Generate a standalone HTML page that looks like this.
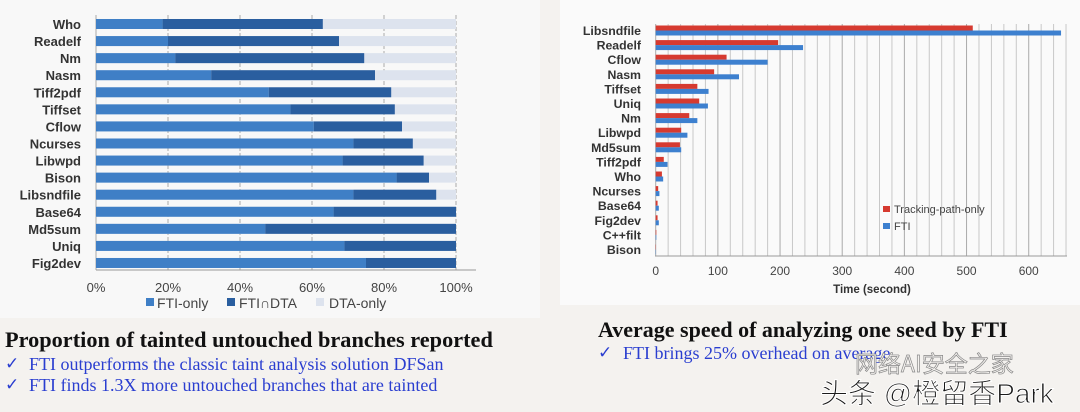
<!DOCTYPE html>
<html><head><meta charset="utf-8"><style>
html,body{margin:0;padding:0;background:#f4f2ef;width:1080px;height:412px;overflow:hidden}
svg text{font-family:"Liberation Sans",sans-serif}
</style></head><body>
<svg id="s" width="1080" height="412" xmlns="http://www.w3.org/2000/svg">
<rect x="0" y="0" width="540" height="318" fill="#f8f8f8"/>
<rect x="560" y="0" width="520" height="305" fill="#fafafa"/>
<g id="left"></g>
<g id="right"></g>
<g>
<rect x="146" y="298" width="8" height="8" fill="#3f7fc6"/>
<text x="157" y="308" font-size="14" fill="#444">FTI-only</text>
<rect x="227" y="298" width="8" height="8" fill="#2a5e9f"/>
<text x="239" y="308" font-size="14" fill="#444">FTI∩DTA</text>
<rect x="316" y="298" width="8" height="8" fill="#dde3ee"/>
<text x="329" y="308" font-size="14" fill="#444">DTA-only</text>
</g>
<g>
<rect x="883" y="206" width="7" height="6" fill="#d63a30"/>
<text x="894" y="213" font-size="11" fill="#444">Tracking-path-only</text>
<rect x="883" y="223" width="7" height="6" fill="#3d80cf"/>
<text x="894" y="230" font-size="11" fill="#444">FTI</text>
</g>
<text x="5" y="347" font-weight="bold" font-size="22.3" fill="#111" style="font-family:'Liberation Serif',serif">Proportion of tainted untouched branches reported</text>
<text x="5" y="369" font-size="17" fill="#2a3ed0" style="font-family:'DejaVu Sans',sans-serif">✓</text>
<text x="29" y="370" font-size="18" fill="#2a3ed0" style="font-family:'Liberation Serif',serif">FTI outperforms the classic taint analysis solution DFSan</text>
<text x="5" y="390" font-size="17" fill="#2a3ed0" style="font-family:'DejaVu Sans',sans-serif">✓</text>
<text x="29" y="391" font-size="18" fill="#2a3ed0" style="font-family:'Liberation Serif',serif">FTI finds 1.3X more untouched branches that are tainted</text>
<text x="598" y="337" font-weight="bold" font-size="22" fill="#111" style="font-family:'Liberation Serif',serif">Average speed of analyzing one seed by FTI</text>
<text x="598" y="358" font-size="17" fill="#2a3ed0" style="font-family:'DejaVu Sans',sans-serif">✓</text>
<text x="623" y="359" font-size="18" fill="#2a3ed0" style="font-family:'Liberation Serif',serif">FTI brings 25% overhead on average</text>
<text x="855" y="372" font-size="23" fill="#f4f2ef" stroke="#888" stroke-width="0.7" style="font-family:'Noto Sans CJK SC',sans-serif">网络AI安全之家</text>
<text x="820" y="403" font-size="28" fill="#1a1a1a" stroke="#fff" stroke-width="1" style="font-family:'Liberation Sans','Noto Sans CJK SC',sans-serif">头条 @橙留香Park</text>
</svg>
<script>
const leftCats=["Who","Readelf","Nm","Nasm","Tiff2pdf","Tiffset","Cflow","Ncurses","Libwpd","Bison","Libsndfile","Base64","Md5sum","Uniq","Fig2dev"];
const leftFtiOnly=[18.5,20,22,32,48,54,60.5,71.5,68.5,83.5,71.5,66,47,69,75];
const leftBoth=[44.5,47.5,52.5,45.5,34,29,24.5,16.5,22.5,9,23,34,53,31,25];
const leftTicks=["0%","20%","40%","60%","80%","100%"];
const rightCats=["Libsndfile","Readelf","Cflow","Nasm","Tiffset","Uniq","Nm","Libwpd","Md5sum","Tiff2pdf","Who","Ncurses","Base64","Fig2dev","C++filt","Bison"];
const rightTracking=[510,197,114,94,67,70,54,41,39,13,10,4,3,3,1,0.5];
const rightFti=[652,237,180,134,85,84,67,51,41,19,12,6,5,5,1,0.5];
const rightTicks=[0,100,200,300,400,500,600];
const NS="http://www.w3.org/2000/svg";
function mk(p,t,a){const e=document.createElementNS(NS,t);for(const k in a)e.setAttribute(k,a[k]);p.appendChild(e);return e;}
const L=document.getElementById('left');
const lx=v=>96+v*3.6, ly=i=>24+i*17.07;
for(let i=0;i<=5;i++){const g=mk(L,'line',{x1:lx(i*20),x2:lx(i*20),y1:15,y2:270,stroke:'#aaa','stroke-width':1,'stroke-dasharray':i==0?'':'4,2'});

const t=mk(L,'text',{x:lx(i*20),y:292,'text-anchor':'middle','font-size':13,fill:'#444'});t.textContent=leftTicks[i];
}
const ax=mk(L,'line',{x1:96,x2:476,y1:270,y2:270,stroke:'#999'});

leftCats.forEach((c,i)=>{const y=ly(i)-5;
const r3=mk(L,'rect',{x:lx(0),y:y,width:lx(100)-lx(0),height:10,fill:'#dde3ee'});

const r1=mk(L,'rect',{x:lx(0),y:y,width:lx(leftFtiOnly[i])-lx(0),height:10,fill:'#3f7fc6'});

const r2=mk(L,'rect',{x:lx(leftFtiOnly[i]),y:y,width:lx(leftFtiOnly[i]+leftBoth[i])-lx(leftFtiOnly[i]),height:10,fill:'#2a5e9f'});

const t=mk(L,'text',{x:81,y:ly(i)+5,'text-anchor':'end','font-size':13,'font-weight':'bold',fill:'#333'});t.textContent=c;
});
const R=document.getElementById('right');
const rx=v=>655.7+v*0.6217, ry=i=>30.5+i*14.6;
for(let v=0;v<=660;v+=20){const g=mk(R,'line',{x1:rx(v),x2:rx(v),y1:24,y2:256,stroke:v%100==0?'#aaa':'#c8c8c8','stroke-width':1});
}
rightTicks.forEach(v=>{const t=mk(R,'text',{x:rx(v),y:275,'text-anchor':'middle','font-size':12,fill:'#444'});t.textContent=v;
});
const ax2=mk(R,'line',{x1:655,x2:1067,y1:256,y2:256,stroke:'#999'});

const xt=mk(R,'text',{x:872,y:293,'text-anchor':'middle','font-size':11.5,'font-weight':'bold',fill:'#333'});xt.textContent='Time (second)';

rightCats.forEach((c,i)=>{
const a=mk(R,'rect',{x:rx(0),y:ry(i)-5,width:rx(rightTracking[i])-rx(0),height:5,fill:'#d63a30'});

const b=mk(R,'rect',{x:rx(0),y:ry(i),width:rx(rightFti[i])-rx(0),height:5,fill:'#3d80cf'});

const t=mk(R,'text',{x:641,y:ry(i)+4.5,'text-anchor':'end','font-size':12.3,'font-weight':'bold',fill:'#333'});t.textContent=c;
});
</script>
</body></html>
